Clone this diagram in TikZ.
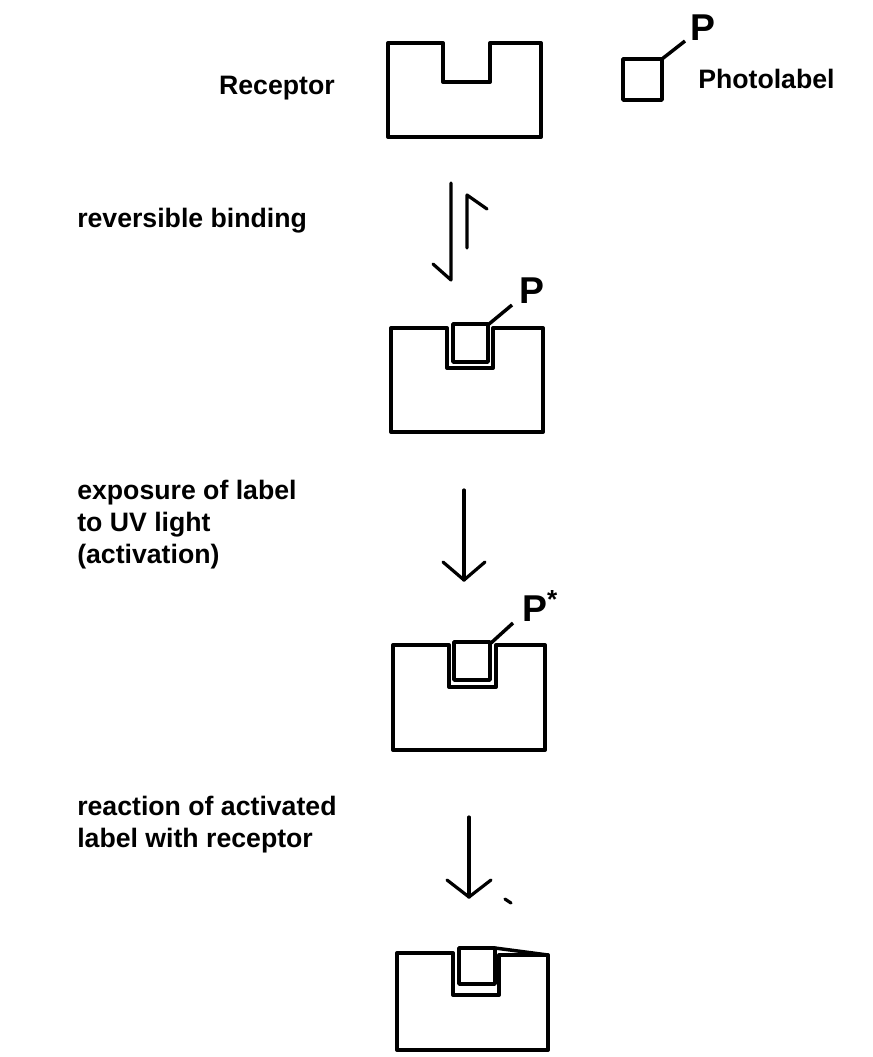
\documentclass[tikz,border=0pt]{standalone}
\usepackage{fontspec}
\setmainfont{Liberation Sans}
\begin{document}
\begin{tikzpicture}[x=0.75pt,y=-0.75pt,
  rec/.style={line width=3pt, line join=round},
  lab/.style={line width=2.6pt, line join=round},
  arr/.style={line width=2.4pt, line cap=round, line join=round},
  txt/.style={font=\fontsize{20}{23.8}\selectfont\bfseries, inner sep=0pt, align=left},
  pl/.style={font=\fontsize{28}{30}\selectfont\bfseries, inner sep=0pt}]
\useasboundingbox (0,0) rectangle (872,1057);

% texts (base = baseline of last line)
\node[txt, anchor=base east] (receptor) at (335,94) {Receptor};
\node[txt, anchor=base west] (photolabel) at (698,88) {Photolabel};
\node[txt, anchor=base west] (rb) at (77,227) {reversible binding};
\node[txt, anchor=base west] (exp) at (77,563) {exposure of label\\to UV light\\(activation)};
\node[txt, anchor=base west] (rea) at (77,847) {reaction of activated\\label with receptor};

% receptor 1 and free photolabel
\draw[rec] (388,43) -- (443,43) -- (443,82) -- (490,82) -- (490,43) -- (541,43) -- (541,137) -- (388,137) -- cycle;
\draw[lab] (623,59) rectangle (662,100);
\node[pl] (p0) at (703,28) {P};
\coordinate (p0s) at (662,59);
\coordinate (p0e) at (685,41);
\draw[lab] (p0s) -- (p0e);

% reversible binding harpoons
\coordinate (a1s) at (451,183); \coordinate (a1e) at (451,280);
\draw[arr] (a1s) -- (a1e) -- ++(-18,-16);
\coordinate (a2s) at (467,248); \coordinate (a2e) at (467,195);
\draw[arr] (a2s) -- (a2e) -- ++(20,14);

% receptor 2
\draw[rec] (391,328) -- (447,328) -- (447,368) -- (493,368) -- (493,328) -- (543,328) -- (543,432) -- (391,432) -- cycle;
\draw[lab] (453,324) rectangle (488,362);
\node[pl] (p1) at (532,291) {P};
\coordinate (p1s) at (489,324);
\coordinate (p1e) at (512,305);
\draw[lab] (p1s) -- (p1e);

% arrow 2
\coordinate (b1s) at (464,490); \coordinate (b1e) at (464,580);
\draw[arr] (b1s) -- (b1e);
\draw[arr] (b1e) -- ++(-21,-18);
\draw[arr] (b1e) -- ++(21,-18);

% receptor 3
\draw[rec] (393,645) -- (449,645) -- (449,687) -- (496,687) -- (496,645) -- (545,645) -- (545,750) -- (393,750) -- cycle;
\draw[lab] (454,642) rectangle (490,680);
\node[pl, anchor=center] (p2) at (540,606) {P\textsuperscript{*}};
\coordinate (p2s) at (491,643);
\coordinate (p2e) at (513,623);
\draw[lab] (p2s) -- (p2e);

% arrow 3
\coordinate (c1s) at (469,817); \coordinate (c1e) at (469,897);
\draw[arr] (c1s) -- (c1e);
\draw[arr] (c1e) -- ++(-22,-17);
\draw[arr] (c1e) -- ++(22,-17);
\draw[line width=2.4pt, line cap=round] (505,899) -- (511,903);

% receptor 4
\draw[rec] (397,953) -- (453,953) -- (453,995) -- (499,995) -- (499,955) -- (548,955) -- (548,1050) -- (397,1050) -- cycle;
\draw[lab] (459,948) rectangle (495,984);
\coordinate (p3s) at (495,948);
\coordinate (p3e) at (548,955);
\draw[lab] (p3s) -- (p3e);
\end{tikzpicture}
\end{document}
